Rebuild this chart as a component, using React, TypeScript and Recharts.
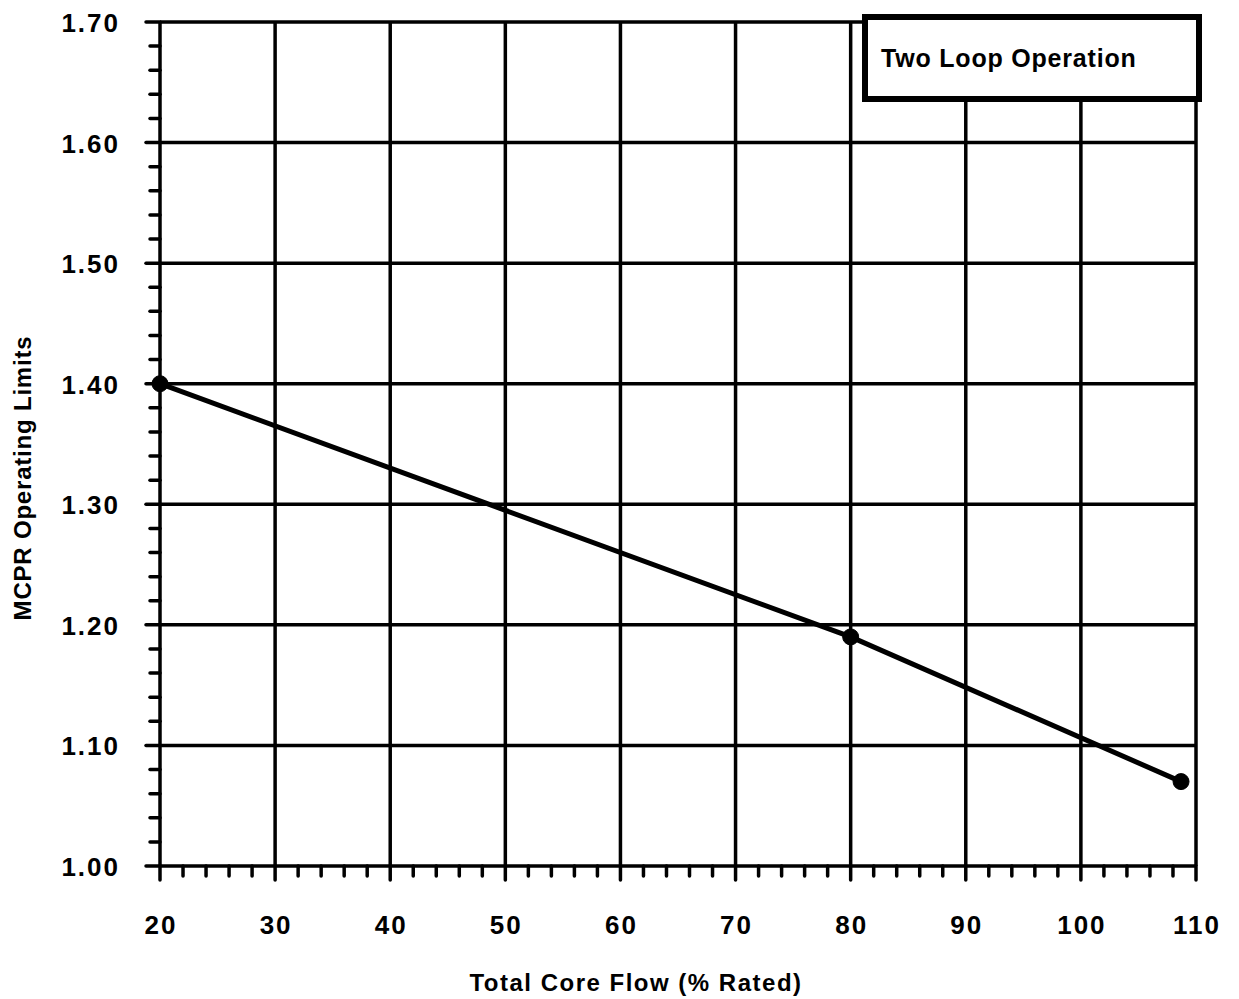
import React from "react";
import { LineChart, Line, XAxis, YAxis, ReferenceLine, Legend } from "recharts";

const flowPct = [20, 80, 108.7];
const mcprLimit = [1.4, 1.19, 1.07];

const xMajorTicks = [20, 30, 40, 50, 60, 70, 80, 90, 100, 110];
const yMajorTicks = [1.0, 1.1, 1.2, 1.3, 1.4, 1.5, 1.6, 1.7];
const xMinorPerMajor = 5;
const yMinorPerMajor = 5;

const legendLabel = "Two Loop Operation";
const xTitle = "Total Core Flow (% Rated)";
const yTitle = "MCPR Operating Limits";

const data = flowPct.map((f, i) => ({ flow: f, mcpr: mcprLimit[i] }));

const buildTicks = (majors: number[], n: number) => {
  const out: number[] = [];
  for (let i = 0; i < majors.length; i++) {
    out.push(majors[i]);
    if (i < majors.length - 1) {
      const step = (majors[i + 1] - majors[i]) / n;
      for (let k = 1; k < n; k++) out.push(+(majors[i] + step * k).toFixed(4));
    }
  }
  return out;
};

const xTicks = buildTicks(xMajorTicks, xMinorPerMajor);
const yTicks = buildTicks(yMajorTicks, yMinorPerMajor);

const isMajor = (v: number, majors: number[]) => majors.some((m) => Math.abs(m - v) < 1e-6);

const FONT = "'Liberation Sans', Arial, sans-serif";

const XTick = (props: any) => {
  const { x, y, payload } = props;
  const major = isMajor(payload.value, xMajorTicks);
  return (
    <g>
      <line x1={x} x2={x} y1={y} y2={y + (major ? 14 : 10)} stroke="#000" strokeWidth={3.5} strokeLinecap="round" />
      {major && (
        <text x={x + 1} y={y + 59} textAnchor="middle" dominantBaseline="central" fontFamily={FONT} fontWeight="bold" fontSize={26} letterSpacing={2} fill="#000">
          {payload.value}
        </text>
      )}
    </g>
  );
};

const YTick = (props: any) => {
  const { x, y, payload } = props;
  const major = isMajor(payload.value, yMajorTicks);
  return (
    <g>
      <line x1={x} x2={x - (major ? 14 : 10)} y1={y} y2={y} stroke="#000" strokeWidth={3.5} strokeLinecap="round" />
      {major && (
        <text x={x - 40} y={y + 1} textAnchor="end" dominantBaseline="central" fontFamily={FONT} fontWeight="bold" fontSize={26} letterSpacing={2} fill="#000">
          {Number(payload.value).toFixed(2)}
        </text>
      )}
    </g>
  );
};

const XTitle = (props: any) => {
  const vb = props.viewBox || {};
  return (
    <text x={vb.x + vb.width / 2 - 42} y={982} textAnchor="middle" dominantBaseline="central" fontFamily={FONT} fontWeight="bold" fontSize={24} letterSpacing={1.5} fill="#000">
      {xTitle}
    </text>
  );
};

const YTitle = (props: any) => {
  const vb = props.viewBox || {};
  const cx = vb.x + 22;
  const cy = vb.y + vb.height / 2 + 34;
  return (
    <text x={cx} y={cy} transform={`rotate(-90, ${cx}, ${cy})`} textAnchor="middle" dominantBaseline="central" fontFamily={FONT} fontWeight="bold" fontSize={24} letterSpacing={0.8} fill="#000">
      {yTitle}
    </text>
  );
};

const LegendBox = () => (
  <div
    style={{
      width: 328,
      height: 76,
      border: "6px solid #000",
      background: "#fff",
      boxSizing: "content-box",
      display: "flex",
      alignItems: "center",
      fontFamily: FONT,
      fontWeight: "bold",
      fontSize: 25,
      letterSpacing: 0.8,
      color: "#000",
    }}
  >
    <span style={{ marginLeft: 13 }}>{legendLabel}</span>
  </div>
);

export default function App() {
  return (
    <div style={{ position: "absolute", left: 0, top: 0, width: 1239, height: 999, background: "#fff" }}>
      <LineChart width={1239} height={999} data={data} margin={{ top: 22, right: 43, left: 0, bottom: 0 }}>
        <XAxis
          dataKey="flow"
          type="number"
          domain={[20, 110]}
          ticks={xTicks}
          interval={0}
          tickSize={0}
          tickMargin={0}
          tick={<XTick />}
          tickLine={false}
          axisLine={{ stroke: "#000", strokeWidth: 3.5 }}
          height={133}
          label={<XTitle />}
        />
        <YAxis
          dataKey="mcpr"
          type="number"
          domain={[1.0, 1.7]}
          ticks={yTicks}
          interval={0}
          tickSize={0}
          tickMargin={0}
          tick={<YTick />}
          tickLine={false}
          axisLine={{ stroke: "#000", strokeWidth: 3.5 }}
          width={160}
          label={<YTitle />}
        />
        {xMajorTicks.slice(1).map((v) => (
          <ReferenceLine key={"x" + v} x={v} stroke="#000" strokeWidth={3.5} />
        ))}
        {yMajorTicks.slice(1).map((v) => (
          <ReferenceLine key={"y" + v} y={v} stroke="#000" strokeWidth={3.5} />
        ))}
        <Legend
          layout="vertical"
          align="center"
          verticalAlign="middle"
          content={<LegendBox />}
          wrapperStyle={{ position: "absolute", left: 862, top: 14, width: 340 }}
        />
        <Line
          type="linear"
          dataKey="mcpr"
          stroke="#000"
          strokeWidth={5}
          dot={{ r: 8, fill: "#000", stroke: "#000", strokeWidth: 1 }}
          isAnimationActive={false}
          legendType="none"
        />
      </LineChart>
    </div>
  );
}
